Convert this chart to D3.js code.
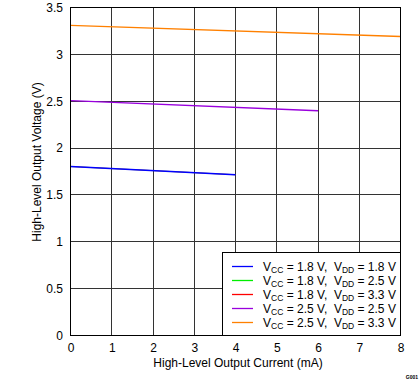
<!DOCTYPE html>
<html><head><meta charset="utf-8">
<script src="https://cdn.jsdelivr.net/npm/d3@7"></script>
<style>body{margin:0;background:#fff}svg{display:block}text{font-family:"Liberation Sans",Arial,sans-serif}</style>
</head><body><svg id="c" width="419" height="382"></svg>
<script>
const xTicks = [0,1,2,3,4,5,6,7,8];
const yTicks = [0,0.5,1,1.5,2,2.5,3,3.5];
const seriesNames = [["1.8","1.8"],["1.8","2.5"],["1.8","3.3"],["2.5","2.5"],["2.5","3.3"]];
const seriesColors = ["#0000ff","#00ee00","#ff0000","#9900dd","#ff8000"];
const currentA = [0,4];
const currentB = [0,6];
const currentC = [0,8];
const vccBlue = [1.798,1.71];
const vccGreen = [1.798,1.71];
const vccRed = [1.798,1.71];
const vccPurple = [2.50,2.393];
const vccOrange = [3.303,3.185];
const series = [
  {x: currentA, y: vccGreen, c: 1, w: 0.5},
  {x: currentA, y: vccRed, c: 2, w: 0.5},
  {x: currentA, y: vccBlue, c: 0, w: 1.3},
  {x: currentB, y: vccPurple, c: 3, w: 1.3},
  {x: currentC, y: vccOrange, c: 4, w: 1.3}
];
const svg = d3.select("#c");
const L = 70, R = 400, T = 7, B = 335;
const x = d3.scaleLinear().domain([0,8]).range([L,R]);
const y = d3.scaleLinear().domain([0,3.5]).range([B,T]);
const g = svg.append("g");
// grid
g.selectAll("line.vx").data(xTicks.slice(1,-1)).enter().append("line")
  .attr("x1",d=>Math.round(x(d))+0.5).attr("x2",d=>Math.round(x(d))+0.5).attr("y1",T).attr("y2",B)
  .attr("stroke","#333").attr("stroke-width",1);
g.selectAll("line.hy").data(yTicks.slice(1,-1)).enter().append("line")
  .attr("y1",d=>Math.round(y(d))+0.5).attr("y2",d=>Math.round(y(d))+0.5).attr("x1",L).attr("x2",R)
  .attr("stroke","#333").attr("stroke-width",1);
// axes labels
const xa = svg.append("g").attr("transform",`translate(0.5,${B})`)
  .call(d3.axisBottom(x).tickValues(xTicks).tickSize(0).tickPadding(8).tickFormat(d3.format("d")));
xa.select(".domain").remove();
xa.selectAll("text").attr("font-size",12).attr("fill","#000").attr("font-family","Liberation Sans, Arial, sans-serif");
const ya = svg.append("g").attr("transform",`translate(${L},0.5)`)
  .call(d3.axisLeft(y).tickValues(yTicks).tickSize(0).tickPadding(7).tickFormat(d=>String(d)));
ya.select(".domain").remove();
ya.selectAll("text").attr("font-size",12).attr("fill","#000").attr("font-family","Liberation Sans, Arial, sans-serif");
// lines
const line = d3.line().x(d=>x(d[0])+0.5).y(d=>y(d[1]));
series.forEach(s=>{
  svg.append("path").datum(s.x.map((v,i)=>[v,s.y[i]])).attr("d",line)
    .attr("fill","none").attr("stroke",seriesColors[s.c]).attr("stroke-width",s.w);
});
// border
svg.append("rect").attr("x",L+0.5).attr("y",T+0.5).attr("width",R-L).attr("height",B-T)
  .attr("fill","none").attr("stroke","#000").attr("stroke-width",1);
// legend
const lg = svg.append("g");
lg.append("rect").attr("x",222.5).attr("y",252.5).attr("width",R-222).attr("height",B-252)
  .attr("fill","#fff").attr("stroke","#000");
seriesNames.forEach((n,i)=>{
  const yy = 266 + i*14;
  lg.append("line").attr("x1",232).attr("x2",253).attr("y1",yy+0.5).attr("y2",yy+0.5)
    .attr("stroke",seriesColors[i]).attr("stroke-width",1.3);
  const t = lg.append("text").attr("x",263).attr("y",yy+4.5).attr("font-size",12).attr("fill","#000");
  t.append("tspan").text("V");
  t.append("tspan").attr("font-size",8.5).attr("dy",2).text("CC");
  t.append("tspan").attr("dy",-2).text(" = " + n[0] + " V,\u00a0 V");
  t.append("tspan").attr("font-size",8.5).attr("dy",2).text("DD");
  t.append("tspan").attr("dy",-2).text(" = " + n[1] + " V");
});
// titles
svg.append("text").attr("x",(L+R)/2+3).attr("y",367).attr("text-anchor","middle")
  .attr("font-size",12).text("High-Level Output Current (mA)");
svg.append("text").attr("transform","translate(41,162) rotate(-90)").attr("text-anchor","middle")
  .attr("font-size",12).text("High-Level Output Voltage (V)");
svg.append("text").attr("x",418).attr("y",379).attr("text-anchor","end")
  .attr("font-size",5).attr("font-weight","bold").text("G001");
</script></body></html>
